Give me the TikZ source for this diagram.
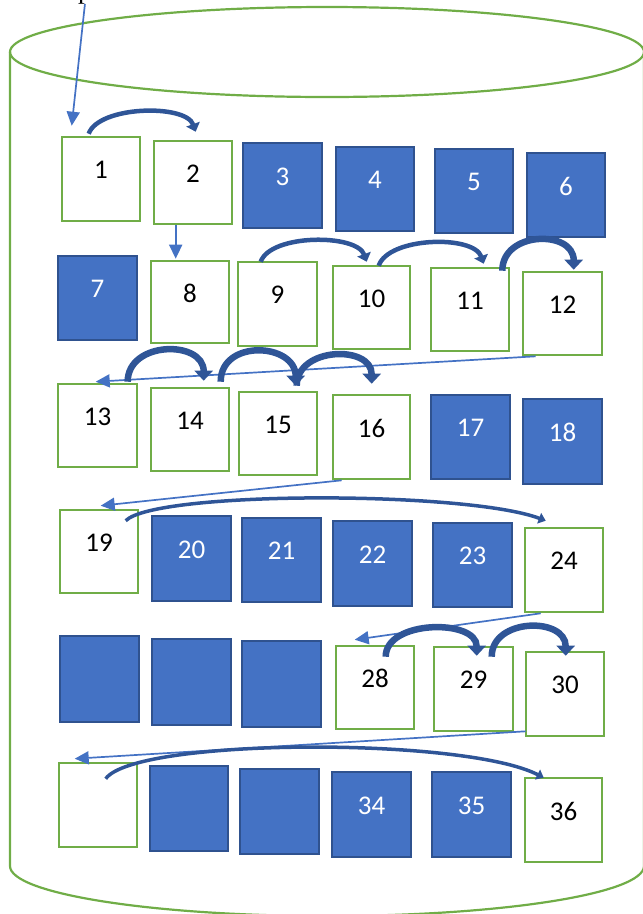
\documentclass[tikz,border=0pt]{standalone}
\usepackage{fontspec}
\setmainfont{Carlito}
\newfontfamily\seriffont{Liberation Serif}
\usetikzlibrary{arrows.meta,calc,fit}
\definecolor{cgreen}{HTML}{70AD47}
\definecolor{cblue}{HTML}{4472C4}
\definecolor{cdark}{HTML}{2F528F}
\definecolor{carc}{HTML}{2F5597}
\tikzset{
  gbox/.style={draw=cgreen, line width=2.6pt, fill=white, inner sep=0pt},
  bbox/.style={draw=cdark, line width=2.4pt, fill=cblue, inner sep=0pt},
  gnum/.style={font=\fontsize{27}{32}\selectfont, text=black, inner sep=0pt},
  bnum/.style={font=\fontsize{27}{32}\selectfont, text=white, inner sep=0pt},
  cyl/.style={draw=cgreen, line width=2.2pt},
  tarrow/.style={draw=cblue, line width=1.7pt, -{Triangle[length=14pt,width=13pt]}},
  arcthin/.style={draw=carc, line width=4.5pt, -{Triangle[length=8pt,width=14pt]}},
  arcthick/.style={draw=carc, line width=6.5pt, -{Triangle[length=10pt,width=18pt]}},
  arclong/.style={draw=carc, line width=3.5pt, -{Triangle[length=7pt,width=11pt]}},
}
\newcommand\cell[7]{%
  \node[#6box, fit={(#2,#3) (#4,#5)}] (#1) {};
  \node[#6num] (#1t) at ([yshift=9pt]#1.center) {#7};
}
\newcommand\blank[6]{%
  \node[#6box, fit={(#2,#3) (#4,#5)}] (#1) {};
}
\begin{document}
\begin{tikzpicture}[x=1pt, y=-1pt]
\useasboundingbox (0,0) rectangle (643,914);
% cylinder
\draw[cyl] (327,52) ellipse [x radius=317, y radius=45];
\draw[cyl] (10,52) -- (10,866) arc[start angle=180, end angle=0, x radius=317, y radius=50] -- (644,52);
% row 1
\cell{b1}{62}{137}{140}{221}{g}{1}
\cell{b2}{154}{141}{232}{224}{g}{2}
\cell{b3}{243}{143}{322}{228}{b}{3}
\cell{b4}{336}{147}{414}{231}{b}{4}
\cell{b5}{435}{149}{513}{233}{b}{5}
\cell{b6}{527}{153}{605}{237}{b}{6}
% row 2
\cell{b7}{58}{256}{137}{340}{b}{7}
\cell{b8}{151}{261}{229}{343}{g}{8}
\cell{b9}{238}{262}{317}{346}{g}{9}
\cell{b10}{333}{266}{410}{349}{g}{10}
\cell{b11}{431}{268}{509}{351}{g}{11}
\cell{b12}{523}{272}{602}{355}{g}{12}
% row 3
\cell{b13}{58}{384}{137}{467}{g}{13}
\cell{b14}{151}{388}{229}{471}{g}{14}
\cell{b15}{239}{392}{317}{475}{g}{15}
\cell{b16}{333}{395}{410}{479}{g}{16}
\cell{b17}{431}{395}{510}{479}{b}{17}
\cell{b18}{523}{399}{602}{484}{b}{18}
% row 4
\cell{b19}{60}{510}{138}{593}{g}{19}
\cell{b20}{152}{516}{231}{601}{b}{20}
\cell{b21}{242}{518}{321}{602}{b}{21}
\cell{b22}{333}{521}{412}{606}{b}{22}
\cell{b23}{433}{523}{512}{607}{b}{23}
\cell{b24}{525}{528}{603}{612}{g}{24}
% row 5
\blank{b25}{60}{636}{139}{722}{b}
\blank{b26}{152}{639}{231}{725}{b}
\blank{b27}{242}{641}{321}{727}{b}
\cell{b28}{336}{646}{414}{729}{g}{28}
\cell{b29}{434}{647}{513}{731}{g}{29}
\cell{b30}{526}{652}{604}{736}{g}{30}
% row 6
\blank{b31}{59}{763}{137}{847}{g}
\blank{b32}{150}{766}{228}{851}{b}
\blank{b33}{240}{769}{319}{854}{b}
\cell{b34}{332}{772}{411}{857}{b}{34}
\cell{b35}{432}{772}{511}{857}{b}{35}
\cell{b36}{525}{778}{602}{862}{g}{36}
% entry label (cut off at top, as in the reference)
\node[font=\seriffont\fontsize{27}{32}\selectfont, anchor=base west, inner sep=0pt] (p) at (78,-2) {p};
% thin straight arrows
\draw[tarrow] (p.south) -- ($(b1.north west)+(11,-10)$);
\draw[tarrow] ($(b2.south west)+(23,0)$) -- ($(b8.north west)+(26,-1)$);
\draw[tarrow] ($(b12.south west)+(14,0)$) -- ($(b13.north west)+(39,-1)$);
\draw[tarrow] ($(b16.south west)+(10,0)$) -- ($(b19.north west)+(42,-3)$);
\draw[tarrow] ($(b24.south west)+(17,0)$) -- ($(b28.north west)+(20,-5)$);
\draw[tarrow] ($(b30.south west)+(1,-6)$) -- ($(b31.north west)+(17,-3)$);
% curved arrows
\draw[arcthin] ($(b1.north west)+(28,-2)$) .. controls +(10,-28) and +(-10,-28) .. ($(b2.north west)+(43,-8)$);
\draw[arcthin] ($(b9.north west)+(24,1)$) .. controls +(10,-28) and +(-10,-28) .. ($(b10.north west)+(35,-3)$);
\draw[arcthin] ($(b10.north west)+(47,1)$) .. controls +(10,-29) and +(-10,-29) .. ($(b11.north west)+(54,-3)$);
\draw[arcthick] ($(b11.north east)+(-8,4)$) .. controls +(0,-40) and +(0,-40) .. ($(b12.north west)+(52,-1)$);
\draw[arcthick] ($(b13.north west)+(71,-1)$) .. controls +(0,-41) and +(0,-41) .. ($(b14.north west)+(54,-6)$);
\draw[arcthick] ($(b14.north west)+(71,-5)$) .. controls +(0,-43) and +(0,-43) .. ($(b15.north west)+(58,-5)$);
\draw[arcthick] ($(b15.north west)+(59,-5)$) .. controls +(0,-39) and +(0,-39) .. ($(b16.north west)+(40,-10)$);
\draw[arclong] ($(b19.north west)+(67,12)$) .. controls +(30,-30) and +(-80,-30) .. ($(b24.north west)+(22,-6)$);
\draw[arcthick] ($(b28.north west)+(51,12)$) .. controls +(0,-37) and +(0,-37) .. ($(b29.north west)+(44,10)$);
\draw[arcthick] ($(b29.north west)+(59,11)$) .. controls +(0,-39) and +(0,-39) .. ($(b30.north west)+(41,5)$);
\draw[arclong] ($(b31.north west)+(48,17)$) .. controls +(30,-41) and +(-80,-41) .. ($(b36.north west)+(20,1)$);
\end{tikzpicture}
\end{document}
